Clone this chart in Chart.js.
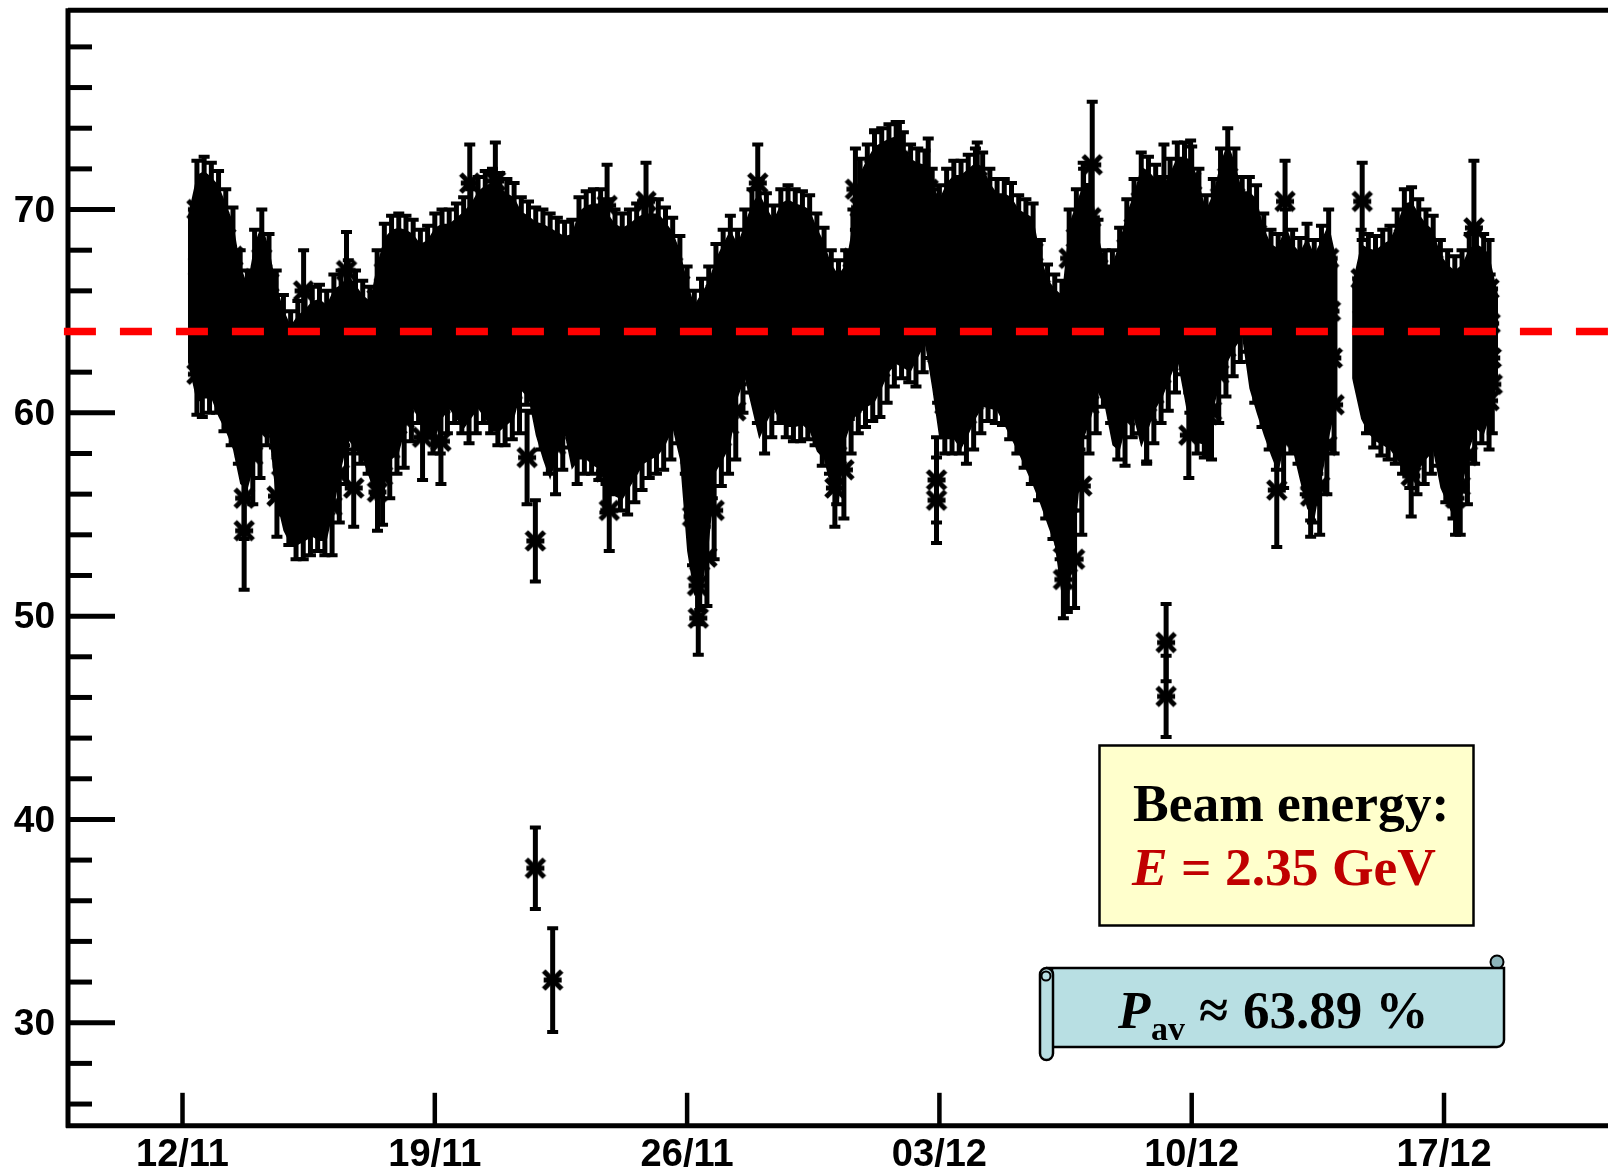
<!DOCTYPE html>
<html>
<head>
<meta charset="utf-8">
<title>Beam polarization</title>
<script src="https://cdn.jsdelivr.net/npm/chart.js@4/dist/chart.umd.min.js"></script>
<style>
    html, body { margin: 0; padding: 0; background: #fff; overflow: hidden; }
    #wrap { position: relative; width: 1608px; height: 1169px; }
    #chart { position: absolute; left: 0; top: 0; }
    #notes { position: absolute; left: 0; top: 0; }
    #notes text { font-family: "Liberation Serif", serif; font-weight: bold; }
</style>
</head>
<body>
<div id="wrap">
    <canvas id="chart" width="1608" height="1169"></canvas>
    <svg id="notes" width="1608" height="1169">
        <rect x="1099.5" y="745.5" width="374" height="180" fill="#ffffcc" stroke="#000" stroke-width="2.5"/>
        <text x="1133" y="821" font-size="53.5" fill="#000">Beam energy:</text>
        <text x="1132" y="885" font-size="53.5" fill="#c00000"><tspan font-style="italic">E</tspan> = 2.35 GeV</text>

        <circle cx="1497" cy="962" r="6.5" fill="#8db5ba" stroke="#000" stroke-width="2"/>
        <path d="M1046 968 H1504 V1040 a7 7 0 0 1 -7 7 H1052 V968 Z" fill="#b8dfe3" stroke="#000" stroke-width="2.5"/>
        <rect x="1040" y="968" width="13" height="92" rx="6.5" fill="#b8dfe3" stroke="#000" stroke-width="2.5"/>
        <circle cx="1046" cy="976" r="4.5" fill="#b8dfe3" stroke="#000" stroke-width="2"/>
        <text x="1118" y="1028" font-size="53" fill="#000" font-style="italic">P</text>
        <text x="1151" y="1040" font-size="34" fill="#000">av</text>
        <text x="1199" y="1028" font-size="53" fill="#000">≈</text>
        <text x="1243" y="1028" font-size="53" fill="#000">63.89 %</text>
    </svg>
</div>
<script>
// x axis: days counted from 12/11
const xTickDays = [0, 7, 14, 21, 28, 35];
const xTickLabels = ['12/11', '19/11', '26/11', '03/12', '10/12', '17/12'];
const yMinorTicks = [26, 28, 32, 34, 36, 38, 42, 44, 46, 48, 52, 54, 56, 58, 62, 64, 66, 68, 72, 74, 76, 78];
const yMajorTicks = [30, 40, 50, 60, 70];

const averageLine = 64;
const denseError = 2.4;

const days = [
    0.40,0.45,0.50,0.55, 0.60,0.65,0.70,0.75, 0.80,0.85,0.90,0.95, 1.00,1.05,1.10,1.15,
    1.20,1.25,1.30,1.35, 1.40,1.45,1.50,1.55, 1.60,1.65,1.70,1.75, 1.80,1.85,1.90,1.95,
    2.00,2.05,2.10,2.15, 2.20,2.25,2.30,2.35, 2.40,2.45,2.50,2.55, 2.60,2.65,2.70,2.75,
    2.80,2.85,2.90,2.95, 3.00,3.05,3.10,3.15, 3.20,3.25,3.30,3.35, 3.40,3.45,3.50,3.55,
    3.60,3.65,3.70,3.75, 3.80,3.85,3.90,3.95, 4.00,4.05,4.10,4.15, 4.20,4.25,4.30,4.35,
    4.40,4.45,4.50,4.55, 4.60,4.65,4.70,4.75, 4.80,4.85,4.90,4.95, 5.00,5.05,5.10,5.15,
    5.20,5.25,5.30,5.35, 5.40,5.45,5.50,5.55, 5.60,5.65,5.70,5.75, 5.80,5.85,5.90,5.95,
    6.00,6.05,6.10,6.15, 6.20,6.25,6.30,6.35, 6.40,6.45,6.50,6.55, 6.60,6.65,6.70,6.75,
    6.80,6.85,6.90,6.95, 7.00,7.05,7.10,7.15, 7.20,7.25,7.30,7.35, 7.40,7.45,7.50,7.55,
    7.60,7.65,7.70,7.75, 7.80,7.85,7.90,7.95, 8.00,8.05,8.10,8.15, 8.20,8.25,8.30,8.35,
    8.40,8.45,8.50,8.55, 8.60,8.65,8.70,8.75, 8.80,8.85,8.90,8.95, 9.00,9.05,9.10,9.15,
    9.20,9.25,9.30,9.35, 9.40,9.45,9.50,9.55, 9.60,9.65,9.70,9.75, 9.80,9.85,9.90,9.95,
    10.00,10.05,10.10,10.15, 10.20,10.25,10.30,10.35, 10.40,10.45,10.50,10.55, 10.60,10.65,10.70,10.75,
    10.80,10.85,10.90,10.95, 11.00,11.05,11.10,11.15, 11.20,11.25,11.30,11.35, 11.40,11.45,11.50,11.55,
    11.60,11.65,11.70,11.75, 11.80,11.85,11.90,11.95, 12.00,12.05,12.10,12.15, 12.20,12.25,12.30,12.35,
    12.40,12.45,12.50,12.55, 12.60,12.65,12.70,12.75, 12.80,12.85,12.90,12.95, 13.00,13.05,13.10,13.15,
    13.20,13.25,13.30,13.35, 13.40,13.45,13.50,13.55, 13.60,13.65,13.70,13.75, 13.80,13.85,13.90,13.95,
    14.00,14.05,14.10,14.15, 14.20,14.25,14.30,14.35, 14.40,14.45,14.50,14.55, 14.60,14.65,14.70,14.75,
    14.80,14.85,14.90,14.95, 15.00,15.05,15.10,15.15, 15.20,15.25,15.30,15.35, 15.40,15.45,15.50,15.55,
    15.60,15.65,15.70,15.75, 15.80,15.85,15.90,15.95, 16.00,16.05,16.10,16.15, 16.20,16.25,16.30,16.35,
    16.40,16.45,16.50,16.55, 16.60,16.65,16.70,16.75, 16.80,16.85,16.90,16.95, 17.00,17.05,17.10,17.15,
    17.20,17.25,17.30,17.35, 17.40,17.45,17.50,17.55, 17.60,17.65,17.70,17.75, 17.80,17.85,17.90,17.95,
    18.00,18.05,18.10,18.15, 18.20,18.25,18.30,18.35, 18.40,18.45,18.50,18.55, 18.60,18.65,18.70,18.75,
    18.80,18.85,18.90,18.95, 19.00,19.05,19.10,19.15, 19.20,19.25,19.30,19.35, 19.40,19.45,19.50,19.55,
    19.60,19.65,19.70,19.75, 19.80,19.85,19.90,19.95, 20.00,20.05,20.10,20.15, 20.20,20.25,20.30,20.35,
    20.40,20.45,20.50,20.55, 20.60,20.65,20.70,20.75, 20.80,20.85,20.90,20.95, 21.00,21.05,21.10,21.15,
    21.20,21.25,21.30,21.35, 21.40,21.45,21.50,21.55, 21.60,21.65,21.70,21.75, 21.80,21.85,21.90,21.95,
    22.00,22.05,22.10,22.15, 22.20,22.25,22.30,22.35, 22.40,22.45,22.50,22.55, 22.60,22.65,22.70,22.75,
    22.80,22.85,22.90,22.95, 23.00,23.05,23.10,23.15, 23.20,23.25,23.30,23.35, 23.40,23.45,23.50,23.55,
    23.60,23.65,23.70,23.75, 23.80,23.85,23.90,23.95, 24.00,24.05,24.10,24.15, 24.20,24.25,24.30,24.35,
    24.40,24.45,24.50,24.55, 24.60,24.65,24.70,24.75, 24.80,24.85,24.90,24.95, 25.00,25.05,25.10,25.15,
    25.20,25.25,25.30,25.35, 25.40,25.45,25.50,25.55, 25.60,25.65,25.70,25.75, 25.80,25.85,25.90,25.95,
    26.00,26.05,26.10,26.15, 26.20,26.25,26.30,26.35, 26.40,26.45,26.50,26.55, 26.60,26.65,26.70,26.75,
    26.80,26.85,26.90,26.95, 27.00,27.05,27.10,27.15, 27.20,27.25,27.30,27.35, 27.40,27.45,27.50,27.55,
    27.60,27.65,27.70,27.75, 27.80,27.85,27.90,27.95, 28.00,28.05,28.10,28.15, 28.20,28.25,28.30,28.35,
    28.40,28.45,28.50,28.55, 28.60,28.65,28.70,28.75, 28.80,28.85,28.90,28.95, 29.00,29.05,29.10,29.15,
    29.20,29.25,29.30,29.35, 29.40,29.45,29.50,29.55, 29.60,29.65,29.70,29.75, 29.80,29.85,29.90,29.95,
    30.00,30.05,30.10,30.15, 30.20,30.25,30.30,30.35, 30.40,30.45,30.50,30.55, 30.60,30.65,30.70,30.75,
    30.80,30.85,30.90,30.95, 31.00,31.05,31.10,31.15, 31.20,31.25,31.30,31.35, 31.40,31.45,31.50,31.55,
    31.60,31.65,31.70,31.75, 31.80,31.85,31.90,31.95,
    32.70,32.75,32.80,32.85, 32.90,32.95,33.00,33.05, 33.10,33.15,33.20,33.25, 33.30,33.35,33.40,33.45,
    33.50,33.55,33.60,33.65, 33.70,33.75,33.80,33.85, 33.90,33.95,34.00,34.05, 34.10,34.15,34.20,34.25,
    34.30,34.35,34.40,34.45, 34.50,34.55,34.60,34.65, 34.70,34.75,34.80,34.85, 34.90,34.95,35.00,35.05,
    35.10,35.15,35.20,35.25, 35.30,35.35,35.40,35.45, 35.50,35.55,35.60,35.65, 35.70,35.75,35.80,35.85,
    35.90,35.95,36.00,36.05, 36.10,36.15,36.20,36.25, 36.25,36.28,36.31,36.34
];
const polarization = [
    70.0,67.2,64.6,62.2, 70.2,67.5,65.0,62.4, 69.9,67.4,64.7,62.4, 69.5,66.8,64.2,61.5,
    68.6,66.0,63.4,60.8, 67.7,65.1,62.4,59.9, 65.6,63.0,60.7,58.2, 64.6,62.5,60.1,57.9,
    66.6,64.0,61.7,59.2, 67.6,65.1,63.0,60.8, 66.4,64.5,62.6,60.7, 64.6,62.0,59.8,57.4,
    63.4,60.8,58.4,55.9, 62.6,60.2,57.6,55.2, 63.1,60.5,57.9,55.2, 63.4,60.9,58.0,55.4,
    63.8,61.0,58.3,55.6, 63.9,61.2,58.2,55.4, 63.6,60.9,58.1,55.4, 64.4,61.9,59.4,57.0,
    64.6,62.5,60.8,58.9, 65.1,63.4,61.9,60.4, 64.6,63.0,61.3,59.9, 64.1,62.5,60.8,59.4,
    63.8,62.0,60.2,58.4, 65.6,62.9,59.7,56.9, 66.9,64.0,61.1,58.2, 67.3,64.8,62.1,59.4,
    67.4,64.8,62.3,59.7, 67.3,65.0,63.0,61.0, 67.1,65.2,63.6,61.9, 66.6,64.8,63.0,61.2,
    66.8,64.7,62.6,60.4, 67.4,65.1,62.8,60.4, 67.6,65.5,63.4,61.4, 67.6,65.7,63.8,61.9,
    67.9,65.7,63.5,61.4, 68.2,65.8,63.2,60.9, 68.6,66.2,63.8,61.4, 69.2,66.7,64.2,61.9,
    69.5,66.8,64.1,61.4, 69.6,66.8,63.7,60.8, 69.4,66.5,63.8,60.8, 69.1,66.5,63.7,61.1,
    68.9,66.3,63.9,61.4, 68.2,66.3,64.6,62.8, 68.0,66.1,64.3,62.4, 67.7,65.2,62.9,60.6,
    67.6,65.0,62.1,59.4, 67.4,64.4,61.4,58.4, 67.2,64.6,62.1,59.6, 67.0,64.8,62.8,60.7,
    67.1,64.5,61.6,58.9, 68.2,65.4,62.3,59.4, 68.5,65.5,62.4,59.4, 68.6,65.4,62.3,59.1,
    68.6,65.5,62.1,58.9, 68.1,65.0,61.9,58.4, 67.6,64.4,61.0,57.6, 67.4,64.1,60.8,57.4,
    67.6,64.5,61.1,58.0, 67.9,64.8,61.7,58.6, 68.1,65.2,62.1,59.2, 68.1,65.3,62.3,59.4,
    68.1,65.3,62.5,59.6, 67.7,65.2,62.6,60.1, 67.2,65.0,63.0,60.9, 66.3,63.9,61.8,59.4,
    64.8,61.2,57.9,54.9, 63.6,60.0,56.4,52.7, 64.2,60.5,56.8,52.9, 64.8,61.5,58.2,55.2,
    65.9,63.5,61.1,58.8, 66.6,64.2,61.8,59.4, 67.3,64.9,62.5,60.1, 66.6,65.1,63.8,62.4,
    67.6,66.2,64.8,63.4, 68.6,66.2,64.0,61.9, 69.1,66.3,63.2,60.4, 68.4,65.9,63.6,61.2,
    67.8,65.8,63.8,61.9, 68.6,66.2,63.7,61.2, 68.8,66.2,63.6,61.0, 68.6,66.1,63.5,61.0,
    68.5,65.9,63.6,61.1, 68.3,65.8,63.3,60.8, 67.4,64.9,62.3,59.8, 66.7,64.3,62.0,59.4,
    65.6,63.0,60.4,57.9, 65.1,62.4,59.7,57.2, 65.6,63.8,62.1,60.4, 67.6,65.2,63.6,61.4,
    70.1,67.2,64.4,61.7, 70.8,67.8,64.9,62.0, 71.4,68.3,65.3,62.2, 71.6,68.7,65.8,62.9,
    71.8,69.0,66.3,63.7, 71.9,69.2,66.6,64.1, 71.4,68.9,66.4,63.9, 70.8,68.3,65.9,63.7,
    70.6,68.4,66.4,64.4, 70.5,68.6,66.9,65.1, 69.6,67.3,65.1,62.9, 68.8,66.1,63.1,60.4,
    69.6,66.7,63.6,60.4, 70.0,66.9,63.7,60.4, 70.0,66.8,63.4,59.9, 70.3,67.2,63.9,60.6,
    70.6,67.6,64.4,61.4, 70.4,67.6,64.8,62.0, 69.6,67.0,64.4,61.9, 69.1,66.6,64.2,61.8,
    69.1,66.5,63.7,61.1, 68.9,66.1,63.3,60.4, 68.3,65.6,62.6,59.7, 68.1,65.0,62.0,58.9,
    67.9,64.8,61.4,58.1, 66.1,63.0,60.1,57.2, 64.9,62.0,59.0,56.2, 64.4,61.2,58.3,55.2,
    64.1,60.2,56.4,52.6, 67.6,62.6,57.6,52.8, 68.6,64.8,60.6,56.4, 69.6,66.9,63.3,60.4,
    69.6,66.9,64.1,61.4, 67.1,65.4,64.2,62.7, 65.6,64.2,63.1,61.9, 65.6,63.8,62.0,60.1,
    66.7,64.4,62.1,59.8, 68.1,65.6,63.5,61.2, 69.1,66.5,63.9,61.4, 70.4,67.0,63.5,60.0,
    70.2,67.0,63.9,60.9, 69.8,67.1,64.5,61.9, 69.2,66.9,64.8,62.5, 70.1,67.8,65.7,63.4,
    70.9,68.6,66.5,64.3, 70.9,68.2,65.3,62.4, 70.7,67.5,64.0,60.4, 69.6,66.6,63.3,60.2,
    68.3,65.6,62.8,60.1, 69.1,66.7,64.4,61.9, 70.6,68.0,65.6,63.2, 71.6,69.1,66.7,64.2,
    70.6,68.4,66.9,64.9, 69.2,67.7,66.7,65.4, 69.2,67.0,65.0,62.9, 68.8,66.4,64.1,61.7,
    67.4,65.0,62.9,60.6, 66.6,64.3,62.0,59.6, 66.4,63.9,61.2,58.7, 67.6,65.2,62.8,60.4,
    66.6,64.3,62.1,59.9, 66.2,63.6,61.0,58.4, 66.9,63.9,60.1,57.0, 66.1,63.1,59.4,56.4,
    66.8,63.8,61.0,58.4, 67.6,65.0,62.7,60.4,
    66.6,64.6,63.2,61.4, 66.4,64.4,62.6,60.7, 66.3,64.2,62.3,60.3, 66.6,64.3,62.2,60.1,
    66.8,64.6,62.2,59.9, 67.6,65.0,62.1,59.4, 68.6,65.6,61.7,58.7, 68.7,65.4,61.8,58.4,
    68.1,65.0,61.9,58.9, 67.6,64.8,62.1,59.4, 67.3,64.6,62.3,59.8, 66.1,63.3,60.6,58.0,
    65.6,62.9,59.9,57.2, 65.3,62.5,59.2,56.4, 65.6,62.9,60.5,57.9, 66.4,64.0,62.0,59.9,
    66.6,64.6,62.6,60.9, 66.4,64.4,62.6,60.6, 66.1,64.4,62.7,61.4, 65.4,63.9,62.9,62.0
];

// stragglers that stand clear of the body, each with its own error
const spikeDays = [9.79, 10.27, 27.29, 27.29, 9.79, 9.56, 1.71, 1.71, 14.31, 14.29, 24.44, 24.44, 20.92, 20.92, 18.1, 0.4, 25.24, 32.73, 35.83, 15.96, 12.86, 11.78, 19.89, 19.2, 18.67, 20.69, 22.05, 24.99, 30.59, 27.97, 27.23, 7.97, 8.68, 4.55, 3.36, 26.75, 27.92, 28.46, 30.36, 31.3, 31.3, 34.09, 35.32, 11.84, 11.72, 4.75, 5.41, 6.66, 7.17, 2.62];
const spikeValues = [37.6, 32.1, 48.7, 46.05, 53.7, 57.8, 54.2, 55.8, 49.9, 51.5, 51.8, 53.6, 56.7, 55.7, 56.3, 61.9, 72.2, 70.4, 69.1, 71.3, 70.4, 70.2, 72.4, 72.0, 71.0, 71.0, 71.4, 69.6, 70.4, 71.4, 71.2, 71.3, 71.4, 67.0, 66.0, 60.5, 58.9, 59.9, 56.2, 55.9, 56.7, 56.9, 55.8, 55.2, 57.1, 56.3, 56.1, 58.8, 58.6, 55.9];
const spikeErrors = [2.0, 2.55, 1.9, 2.0, 2.0, 2.3, 2.9, 2.0, 1.8, 1.9, 1.9, 1.9, 2.1, 2.1, 1.9, 2.0, 3.1, 1.9, 3.3, 1.9, 1.9, 2.0, 1.9, 1.9, 2.0, 2.5, 1.9, 2.7, 2.0, 2.0, 2.0, 1.9, 1.9, 1.9, 2.0, 3.0, 2.1, 2.0, 2.8, 2.0, 2.0, 2.0, 1.8, 2.0, 2.0, 1.9, 1.9, 2.1, 2.1, 2.0];

function asteriskMarker() {
    const c = document.createElement('canvas');
    c.width = 28;
    c.height = 28;
    const g = c.getContext('2d');
    g.strokeStyle = '#000';
    g.lineWidth = 5;
    g.beginPath();
    g.moveTo(5, 5); g.lineTo(23, 23);
    g.moveTo(23, 5); g.lineTo(5, 23);
    g.moveTo(5, 14); g.lineTo(23, 14);
    g.stroke();
    g.fillStyle = '#000';
    g.fillRect(10, 10, 8, 8);
    return c;
}

function toPoints(xs, ys) {
    return xs.map((x, i) => ({ x: x, y: ys[i] }));
}

// outline of the part where the bars run together, taken from each row of four;
// both ends of a run reach a little further out, where the marker arms merge
function bodyEdge(offset, margin) {
    const points = [];
    const inward = margin > 0 ? -2 : 2;
    for (let i = 0; i < days.length; i += 4) {
        const y = polarization[i + offset] + margin;
        const startsRun = i === 0 || days[i] - days[i - 4] > 0.5;
        const endsRun = i + 4 >= days.length || days[i + 4] - days[i] > 0.5;
        if (startsRun && i > 0) {
            points.push({ x: days[i] - 0.4, y: null });
        }
        if (startsRun) {
            points.push({ x: days[i] - 0.25, y: y + inward });
        }
        points.push({ x: days[i], y: y });
        if (endsRun) {
            points.push({ x: days[i] + 0.25, y: y + inward });
        }
    }
    return points;
}

// error bars are not something Chart.js does by itself
const errorBars = {
    id: 'errorBars',
    beforeDatasetsDraw(chart) {
        const { ctx, scales: { x, y } } = chart;
        ctx.save();
        ctx.strokeStyle = '#000';
        const bar = (d, v, err) => {
            const px = x.getPixelForValue(d);
            const top = y.getPixelForValue(v + err);
            const bottom = y.getPixelForValue(v - err);
            ctx.lineWidth = 5;
            ctx.beginPath();
            ctx.moveTo(px, top);
            ctx.lineTo(px, bottom);
            ctx.stroke();
            ctx.lineWidth = 4;
            ctx.beginPath();
            ctx.moveTo(px - 5.5, top);
            ctx.lineTo(px + 5.5, top);
            ctx.moveTo(px - 5.5, bottom);
            ctx.lineTo(px + 5.5, bottom);
            ctx.stroke();
        };
        days.forEach((d, i) => bar(d, polarization[i], denseError));
        spikeDays.forEach((d, i) => bar(d, spikeValues[i], spikeErrors[i]));
        ctx.restore();
    }
};

const frame = {
    id: 'frame',
    beforeDatasetsDraw(chart) {
        const { ctx, chartArea: a, scales: { x, y } } = chart;
        ctx.save();
        ctx.strokeStyle = '#000';
        ctx.lineWidth = 5;
        yMinorTicks.forEach(v => {
            const py = y.getPixelForValue(v);
            ctx.beginPath();
            ctx.moveTo(a.left, py);
            ctx.lineTo(a.left + 24, py);
            ctx.stroke();
        });
        yMajorTicks.forEach(v => {
            const py = y.getPixelForValue(v);
            ctx.beginPath();
            ctx.moveTo(a.left, py);
            ctx.lineTo(a.left + 47, py);
            ctx.stroke();
        });
        ctx.lineWidth = 4.5;
        xTickDays.forEach(d => {
            const px = x.getPixelForValue(d);
            ctx.beginPath();
            ctx.moveTo(px, a.bottom);
            ctx.lineTo(px, a.bottom - 33);
            ctx.stroke();
        });
        ctx.lineWidth = 5;
        ctx.beginPath();
        ctx.moveTo(a.left, a.top);
        ctx.lineTo(a.right + 2, a.top);
        ctx.moveTo(a.left, a.top - 2);
        ctx.lineTo(a.left, a.bottom + 2);
        ctx.moveTo(a.left - 2, a.bottom);
        ctx.lineTo(a.right + 2, a.bottom);
        ctx.stroke();
        ctx.restore();
    }
};

const marker = asteriskMarker();
const fontFamily = '"Liberation Sans", Arial, sans-serif';

new Chart(document.getElementById('chart').getContext('2d'), {
    type: 'scatter',
    data: {
        datasets: [
            {
                label: 'Average',
                type: 'line',
                order: 0,
                data: [{ x: -3.29, y: averageLine }, { x: 39.6, y: averageLine }],
                borderColor: '#ff0000',
                borderWidth: 7.5,
                borderDash: [32, 24],
                borderCapStyle: 'butt',
                pointRadius: 0,
                clip: false
            },
            {
                label: 'Isolated points',
                order: 1,
                data: toPoints(spikeDays, spikeValues),
                pointStyle: marker,
                pointRadius: 14,
                showLine: false
            },
            {
                label: 'Polarization',
                order: 2,
                data: toPoints(days, polarization),
                pointStyle: marker,
                pointRadius: 14,
                showLine: false
            },
            {
                label: 'Body upper edge',
                type: 'line',
                order: 3,
                data: bodyEdge(0, denseError - 0.7),
                borderWidth: 0,
                pointRadius: 0,
                spanGaps: false,
                backgroundColor: '#000',
                fill: '+1'
            },
            {
                label: 'Body lower edge',
                type: 'line',
                order: 4,
                data: bodyEdge(3, -(denseError - 0.7)),
                borderWidth: 0,
                pointRadius: 0,
                spanGaps: false,
                fill: false
            }
        ]
    },
    plugins: [frame, errorBars],
    options: {
        responsive: false,
        animation: false,
        layout: { autoPadding: false, padding: { top: 10.3 } },
        plugins: { legend: { display: false }, title: { display: false }, tooltip: { enabled: false } },
        scales: {
            x: {
                type: 'linear',
                min: -3.177,
                max: 39.55,
                grid: { display: false },
                border: { display: false },
                afterBuildTicks: scale => { scale.ticks = xTickDays.map(v => ({ value: v })); },
                afterFit: scale => {
                    scale.height = 43.2;
                    scale.paddingLeft = 0;
                    scale.paddingRight = 0;
                },
                ticks: {
                    autoSkip: false,
                    maxRotation: 0,
                    padding: -1,
                    color: '#000',
                    font: { family: fontFamily, size: 38, weight: 'bold' },
                    callback: value => xTickLabels[xTickDays.indexOf(value)]
                }
            },
            y: {
                type: 'linear',
                min: 24.93,
                max: 79.8,
                grid: { display: false },
                border: { display: false },
                afterBuildTicks: scale => { scale.ticks = yMajorTicks.map(v => ({ value: v })); },
                afterFit: scale => {
                    scale.width = 68;
                    scale.paddingTop = 0;
                    scale.paddingBottom = 0;
                },
                ticks: {
                    padding: 5,
                    labelOffset: 2,
                    color: '#000',
                    font: { family: fontFamily, size: 37, weight: 'bold' },
                    callback: value => String(value)
                }
            }
        }
    }
});
</script>
</body>
</html>
